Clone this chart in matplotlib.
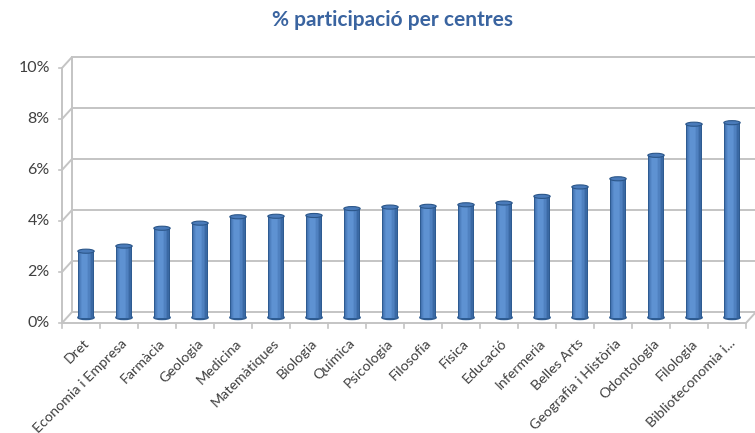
import matplotlib.pyplot as plt
import matplotlib.transforms as mtransforms
from matplotlib.patches import Ellipse
import numpy as np

# data (percent)
centres = ['Dret', 'Economia i Empresa', 'Farmàcia', 'Geologia', 'Medicina',
           'Matemàtiques', 'Biologia', 'Química', 'Psicologia', 'Filosofia',
           'Física', 'Educació', 'Infermeria', 'Belles Arts',
           'Geografia i Història', 'Odontologia', 'Filologia',
           'Biblioteconomia i...']
participacio = [2.6, 2.8, 3.5, 3.7, 3.95, 3.97, 4.0, 4.27, 4.33, 4.36,
                4.42, 4.49, 4.75, 5.12, 5.44, 6.36, 7.58, 7.64]
yticks = [0, 2, 4, 6, 8, 10]
title = '% participació per centres'

plt.rcParams['font.family'] = ['Lato', 'DejaVu Sans']

W, H = 755, 433
fig = plt.figure(figsize=(W / 100, H / 100), dpi=100)
# front plane of the fake 3D box, in pixels
x0, x1 = 62, 746
y0, y1 = 323, 68
ax = fig.add_axes([x0 / W, 1 - y0 / H, (x1 - x0) / W, (y0 - y1) / H])
n = len(centres)
ax.set_xlim(0, n)
ax.set_ylim(0, 10)
ax.axis('off')

# depth offset: 10px right, 11px up for the back wall, half for the bars
back = ax.transData + mtransforms.ScaledTranslation(0.10, 0.11, fig.dpi_scale_trans)
mid = ax.transData + mtransforms.ScaledTranslation(0.05, 0.055, fig.dpi_scale_trans)

grid_col = '#C4C4C4'
# back wall gridlines and side wall diagonals
for t in yticks:
    ax.plot([0, n + 0.5], [t, t], color=grid_col, lw=1.4, transform=back, clip_on=False)
    ax.annotate('', xy=(0, t), xycoords=back, xytext=(0, t), textcoords=ax.transData,
                arrowprops=dict(arrowstyle='-', color=grid_col, lw=1.4, shrinkA=0, shrinkB=0))
ax.plot([0, 0], [0, 10], color=grid_col, lw=1.4, transform=back, clip_on=False)
# front axis lines
ax.plot([0, 0], [0, 10], color=grid_col, lw=1.4, clip_on=False)
ax.plot([0, n], [0, 0], color=grid_col, lw=1.4, clip_on=False)
ax.annotate('', xy=(n, 0), xycoords=back, xytext=(n, 0), textcoords=ax.transData,
            arrowprops=dict(arrowstyle='-', color=grid_col, lw=1.4, shrinkA=0, shrinkB=0))
for t in yticks:
    ax.plot([-0.07, 0], [t, t], color=grid_col, lw=1.2, clip_on=False)
    ax.text(-0.32, t, f'{t}%', ha='right', va='center', fontsize=11.5, color='#404040')
for i in range(n + 1):
    ax.plot([i, i], [0, -0.18], color=grid_col, lw=1.2, clip_on=False)

# cylinders: layered bars to fake horizontal shading
xs = np.arange(n) + 0.5
bw = 0.43
shades = ['#2E5B91', '#3A69A4', '#4676B4', '#4F81C0', '#588BCB', '#5E92D2']
fracs = [1.0, 0.88, 0.74, 0.6, 0.45, 0.3]
for col, f in zip(shades, fracs):
    ax.bar(xs - bw * (1 - f) * 0.15, participacio, width=bw * f, color=col,
           transform=mid, clip_on=False, zorder=3)
eh = 0.16
for x, v in zip(xs, participacio):
    ax.add_patch(Ellipse((x, 0), bw, eh, color='#2E5B91', transform=mid, zorder=2.9, clip_on=False))
    ax.add_patch(Ellipse((x, v), bw, eh, facecolor='#4A7BBA', edgecolor='#2B5689',
                         lw=0.8, transform=mid, zorder=4, clip_on=False))

for x, lab in zip(xs, centres):
    ax.text(x + 0.05, -0.55, lab, rotation=45, ha='right', va='top',
            rotation_mode='anchor', fontsize=10.3, color='#404040')

fig.text(393 / W, 1 - 20 / H, title, ha='center', va='center', fontsize=15,
         fontweight='bold', color='#3A64A0')

plt.savefig('out.png', dpi=100)
plt.close()
